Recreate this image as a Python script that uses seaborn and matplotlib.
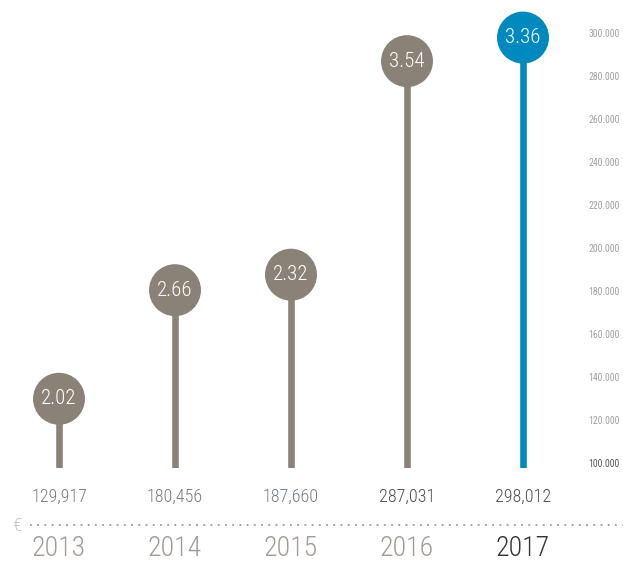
import numpy as np
import pandas as pd
import seaborn as sns
import matplotlib.pyplot as plt
from matplotlib import font_manager

years = ['2013', '2014', '2015', '2016', '2017']
amounts = [129917, 180456, 187660, 287031, 298012]
amount_labels = ['129,917', '180,456', '187,660', '287,031', '298,012']
ratios = ['2.02', '2.66', '2.32', '3.54', '3.36']
yticks = [100000, 120000, 140000, 160000, 180000, 200000,
          220000, 240000, 260000, 280000, 300000]

grey = '#8a8277'
blue = '#0089bf'

sns.set_style('white')
names = {f.name for f in font_manager.fontManager.ttflist}
narrow = 'DejaVu Sans'
for cand in ['Liberation Sans Narrow', 'Roboto Condensed', 'Open Sans Condensed',
             'DejaVu Sans Condensed']:
    if cand in names:
        narrow = cand
        break
plt.rcParams['font.family'] = [narrow, 'DejaVu Sans']

df = pd.DataFrame({'year': years, 'amount': amounts})
df['hl'] = ['old', 'old', 'old', 'old', 'new']
palette = {'old': grey, 'new': blue}

fig = plt.figure(figsize=(6.23, 5.63), dpi=100)
ax = fig.add_axes([0, 95 / 563, 580 / 623, 468 / 563])

sns.barplot(data=df, x='year', y='amount', hue='hl', palette=palette,
            order=years, width=0.07, dodge=False, legend=False, ax=ax,
            saturation=1)
sns.scatterplot(data=df, x='year', y='amount', hue='hl', palette=palette,
                s=1400, linewidth=0, legend=False, ax=ax, zorder=3)

for i, (v, r) in enumerate(zip(amounts, ratios)):
    ax.text(i, v, r, ha='center', va='center', color='white',
            fontsize=15, fontweight='light', zorder=4)

ax.set_xlim(-59 / 116, 4 + 57 / 116)
ax.set_ylim(97700, 315500)
ax.yaxis.tick_right()
ax.set_yticks(yticks)
ax.set_yticklabels([f'{t:,}'.replace(',', '.') for t in yticks])
ax.tick_params(axis='y', length=0, pad=6, labelsize=7, labelcolor='#a0a0a0')
ax.get_yticklabels()[0].set_color('#555555')
ax.set_xticks([])
ax.set_xlabel('')
ax.set_ylabel('')
for s in ax.spines.values():
    s.set_visible(False)

# labels under the bars
val_colors = ['#6f7c88', '#6f7c88', '#6f7c88', '#4a4a4a', '#4a4a4a']
year_colors = ['#a39b91', '#a39b91', '#a39b91', '#a39b91', '#333333']
for i in range(len(years)):
    x_fig = ax.transData.transform((i, 0))[0] / fig.bbox.width
    fig.text(x_fig, 1 - 497 / 563, amount_labels[i], ha='center',
             va='center', fontsize=13, fontweight='light', color=val_colors[i])
    fig.text(x_fig, 1 - 549 / 563, years[i], ha='center', va='center',
             fontsize=20, fontweight='light', color=year_colors[i])

fig.text(17 / 623, 1 - 526 / 563, '€', ha='center', va='center',
         fontsize=14, fontweight='light', color='#c8c8c8')
fig.add_artist(plt.Line2D([30 / 623, 1.0], [1 - 525 / 563, 1 - 525 / 563],
                          transform=fig.transFigure, color='#9a9a9a',
                          linestyle=(0, (1, 3)), linewidth=1.3))

fig.savefig('out.png', dpi=100)
